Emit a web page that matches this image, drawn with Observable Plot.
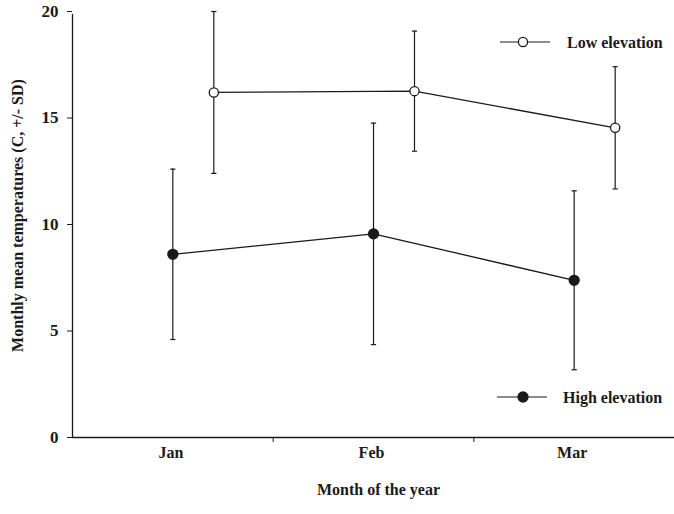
<!DOCTYPE html>
<html>
<head>
<meta charset="utf-8">
<script src="https://cdn.jsdelivr.net/npm/d3@7"></script>
<script src="https://cdn.jsdelivr.net/npm/@observablehq/plot@0.6"></script>
<style>
  html, body { margin: 0; padding: 0; background: #fff; }
  #wrap { position: relative; width: 674px; height: 514px; }
  #legend { position: absolute; left: 0; top: 0; pointer-events: none; }
  svg text { font-family: "Liberation Serif", "Times New Roman", serif; font-weight: bold; }
</style>
</head>
<body>
<div id="wrap"></div>
<script>
const months = ["Jan", "Feb", "Mar"];
const lowMean = [16.2, 16.26, 14.54];
const lowSD = [3.8, 2.82, 2.87];
const highMean = [8.6, 9.56, 7.38];
const highSD = [4.0, 5.2, 4.2];
const yTicks = [0, 5, 10, 15, 20];
const seriesNames = ["Low elevation", "High elevation"];

const low = months.map((m, i) => ({month: m, idx: i + 1, mean: lowMean[i], lo: lowMean[i] - lowSD[i], hi: lowMean[i] + lowSD[i]}));
const high = months.map((m, i) => ({month: m, idx: i + 1, mean: highMean[i], lo: highMean[i] - highSD[i], hi: highMean[i] + highSD[i]}));
const boundaries = months.slice(1).map((m, i) => i + 1.5);

const ink = "#1a1a1a";
const font = "Liberation Serif, Times New Roman, serif";
const cap = {draw(ctx, size) { const w = Math.sqrt(size / Math.PI); ctx.moveTo(-w, 0); ctx.lineTo(w, 0); }};
const lowShift = 41;

function series(data, dx, filled) {
  return [
    Plot.ruleX(data, {x: "idx", y1: "lo", y2: "hi", dx, stroke: ink, strokeWidth: 1.2}),
    Plot.dot(data, {x: "idx", y: "hi", dx, symbol: cap, r: 2.6, stroke: ink, strokeWidth: 1.2, fill: "none"}),
    Plot.dot(data, {x: "idx", y: "lo", dx, symbol: cap, r: 2.6, stroke: ink, strokeWidth: 1.2, fill: "none"}),
    Plot.line(data, {x: "idx", y: "mean", dx, stroke: ink, strokeWidth: 1.3}),
    Plot.dot(data, {x: "idx", y: "mean", dx, r: filled ? 5 : 4.6, fill: filled ? ink : "white", stroke: ink, strokeWidth: 1.3})
  ];
}

const chart = Plot.plot({
  width: 674,
  height: 514,
  marginTop: 11,
  marginBottom: 77,
  marginLeft: 72,
  marginRight: 0,
  style: {fontFamily: font, fontWeight: "bold", background: "white", color: ink},
  x: {domain: [0.5, months.length + 0.5]},
  y: {domain: [0, 20]},
  marks: [
    Plot.axisY({ticks: yTicks, tickSize: 5, tickPadding: 9, fontSize: 17, label: null, stroke: ink}),
    Plot.axisX({ticks: boundaries, tickSize: 5, tickFormat: () => "", label: null, stroke: ink}),
    Plot.axisX({ticks: months.map((m, i) => i + 1), tickSize: 0, tickPadding: 9, dx: -2, tickFormat: d => months[d - 1], fontSize: 16, label: null}),
    Plot.ruleY([0], {stroke: ink, strokeWidth: 1.3}),
    Plot.ruleX([0.5], {y1: 0, y2: 20, insetBottom: -3, stroke: ink, strokeWidth: 1.3}),
    ...series(low, lowShift, false),
    ...series(high, 0, true),
    Plot.text(["Monthly mean temperatures (C, +/- SD)"], {frameAnchor: "left", textAnchor: "middle", rotate: -90, dx: -55, dy: -9, fontSize: 16, fill: ink}),
    Plot.text(["Month of the year"], {frameAnchor: "bottom", dx: 5, dy: 57, fontSize: 16, fill: ink})
  ]
});

const wrap = document.getElementById("wrap");
wrap.appendChild(chart);

// legend overlay
const legend = d3.select(wrap).append("svg").attr("id", "legend").attr("width", 674).attr("height", 514);
const legendItems = [
  {name: seriesNames[0], filled: false, x1: 500, x2: 550, cx: 523, y: 42, tx: 567},
  {name: seriesNames[1], filled: true, x1: 497, x2: 547, cx: 523, y: 397, tx: 563}
];
const g = legend.selectAll("g").data(legendItems).join("g");
g.append("line").attr("x1", d => d.x1).attr("x2", d => d.x2).attr("y1", d => d.y).attr("y2", d => d.y).attr("stroke", ink).attr("stroke-width", 1.2);
g.append("circle").attr("cx", d => d.cx).attr("cy", d => d.y).attr("r", d => d.filled ? 5 : 4.6).attr("fill", d => d.filled ? ink : "white").attr("stroke", ink).attr("stroke-width", 1.3);
g.append("text").attr("x", d => d.tx).attr("y", d => d.y).attr("dy", "0.35em").attr("font-size", 16).attr("fill", ink).text(d => d.name);
</script>
</body>
</html>
